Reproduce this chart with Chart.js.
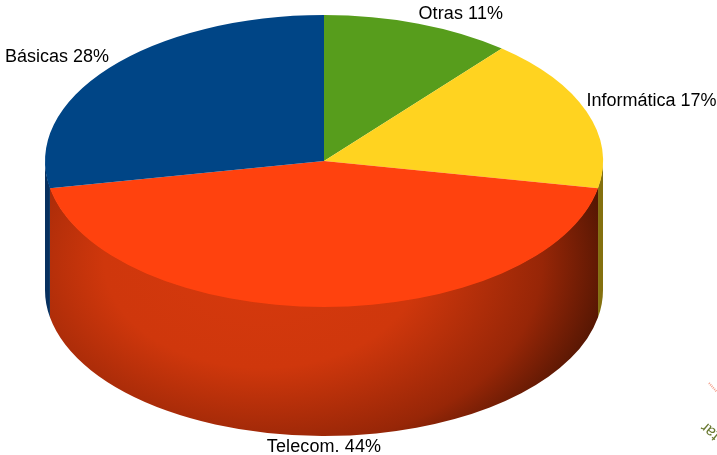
<!DOCTYPE html>
<html>
<head>
<meta charset="utf-8">
<style>
  html, body { margin: 0; padding: 0; background: #fff; overflow: hidden; }
  canvas { display: block; }
</style>
<script src="https://cdn.jsdelivr.net/npm/chart.js@4/dist/chart.umd.min.js"></script>
</head>
<body>
<canvas id="pie" width="717" height="455"></canvas>
<script>
const categories = ['Otras', 'Informática', 'Telecom.', 'Básicas'];
const shares = [11, 17, 44, 28];
const topColors = ['#579d1c', '#ffd320', '#ff420e', '#004586'];

// the pie is drawn flat by Chart.js, then squashed to look like a disc
const radiusX = 279;
const radiusY = 146;
const depth = 129;

function wallFill(ctx, i) {
  if (i === 2) {
    // telecom wall, lit from the front left
    const g = ctx.createRadialGradient(0, 0, 0, 0, 0, 1);
    g.addColorStop(0, '#d6390d');
    g.addColorStop(0.45, '#cf370c');
    g.addColorStop(0.8, '#972607');
    g.addColorStop(1, '#531603');
    return g;
  }
  return i === 3 ? '#07305f' : '#84700f';
}

const disc3d = {
  id: 'disc3d',
  beforeDatasetsDraw(chart) {
    const ctx = chart.ctx;
    const arcs = chart.getDatasetMeta(0).data;
    const cx = arcs[0].x, cy = arcs[0].y;
    arcs.forEach((arc, i) => {
      const a0 = Math.max(arc.startAngle, 0);
      const a1 = Math.min(arc.endAngle, Math.PI);
      if (a1 <= a0) return;
      ctx.save();
      ctx.beginPath();
      // top edge sits 1px under the disc so no white seam shows along the rim
      ctx.ellipse(cx, cy - 1, radiusX, radiusY, 0, a0, a1);
      ctx.ellipse(cx, cy + depth, radiusX, radiusY, 0, a1, a0, true);
      ctx.closePath();
      ctx.translate(262, 262);
      ctx.scale(350, 235);
      ctx.fillStyle = wallFill(ctx, i);
      ctx.fill();
      ctx.restore();
    });
    ctx.save();
    ctx.translate(cx, cy);
    ctx.scale(1, radiusY / radiusX);
    ctx.translate(-cx, -cy);
  },
  afterDatasetsDraw(chart) {
    chart.ctx.restore();
  },
  afterDraw(chart) {
    const ctx = chart.ctx;
    const arcs = chart.getDatasetMeta(0).data;
    const cx = arcs[0].x, cy = arcs[0].y;
    ctx.save();
    ctx.font = '18px "Liberation Sans"';
    ctx.fillStyle = '#000';
    arcs.forEach((arc, i) => {
      const mid = (arc.startAngle + arc.endAngle) / 2;
      let x = cx + radiusX * Math.cos(mid);
      let y = cy + radiusY * Math.sin(mid);
      const text = categories[i] + ' ' + shares[i] + '%';
      ctx.letterSpacing = (i === 0 || i === 2) ? '0.1px' : '0px';
      if (i === 2) {
        ctx.textAlign = 'center';
        ctx.textBaseline = 'top';
        y += depth + 2;
      } else if (i === 0) {
        ctx.textAlign = 'left';
        ctx.textBaseline = 'bottom';
        y -= 1;
      } else if (i === 1) {
        ctx.textAlign = 'left';
        ctx.textBaseline = 'bottom';
        y -= 2;
      } else {
        ctx.textAlign = 'right';
        ctx.textBaseline = 'bottom';
        y -= 2;
      }
      ctx.fillText(text, x, y);
    });
    ctx.restore();

    // bits of other charts cut off at the corner of the picture
    ctx.save();
    ctx.translate(703, 425);
    ctx.rotate(220 * Math.PI / 180);
    ctx.font = '16px "Liberation Sans"';
    ctx.fillStyle = '#6b7a33';
    ctx.textAlign = 'right';
    ctx.textBaseline = 'middle';
    ctx.fillText('tar', 0, 0);
    ctx.restore();
    ctx.save();
    ctx.strokeStyle = '#f3a08c';
    ctx.lineWidth = 2;
    ctx.setLineDash([1, 1]);
    ctx.beginPath();
    ctx.moveTo(709, 383);
    ctx.lineTo(717, 392);
    ctx.stroke();
    ctx.restore();
  }
};

new Chart(document.getElementById('pie'), {
  type: 'pie',
  data: {
    labels: categories,
    datasets: [{
      data: shares,
      backgroundColor: topColors,
      borderWidth: 0,
      clip: false
    }]
  },
  options: {
    responsive: false,
    animation: false,
    radius: radiusX,
    layout: { padding: { left: 0, right: 69, top: 0, bottom: 133 } },
    plugins: { legend: { display: false }, tooltip: { enabled: false } }
  },
  plugins: [disc3d]
});
</script>
</body>
</html>
